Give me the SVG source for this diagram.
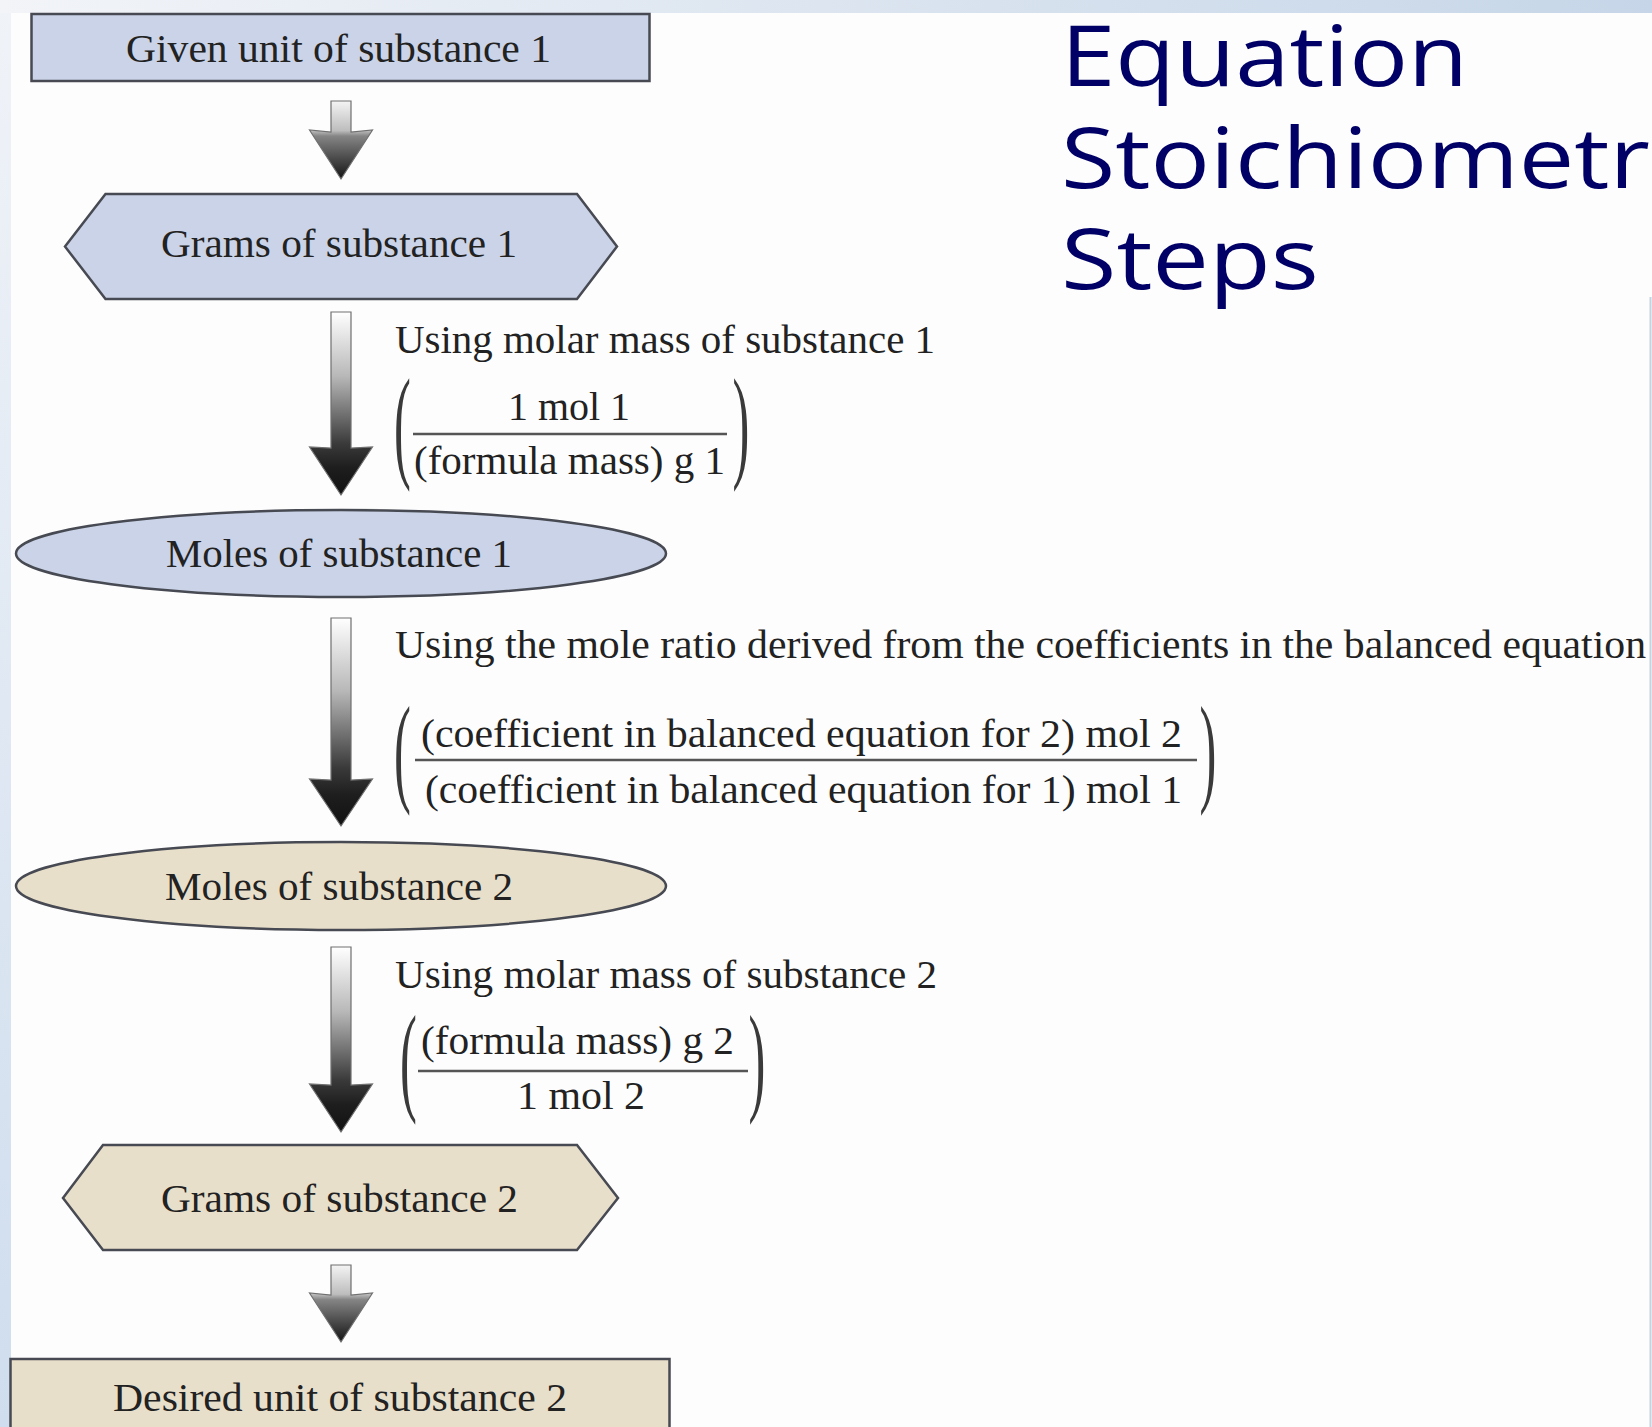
<svg xmlns="http://www.w3.org/2000/svg" width="1652" height="1427" viewBox="0 0 1652 1427">
<defs>
  <linearGradient id="topband" x1="0" y1="0" x2="1" y2="0">
    <stop offset="0" stop-color="#f2f4f8"/>
    <stop offset="1" stop-color="#c6d6e8"/>
  </linearGradient>
  <linearGradient id="leftband" x1="0" y1="0" x2="0" y2="1">
    <stop offset="0" stop-color="#f0f3f8"/>
    <stop offset="1" stop-color="#cfddee"/>
  </linearGradient>
  <linearGradient id="gradLong" x1="0" y1="0" x2="0" y2="1">
    <stop offset="0" stop-color="#ffffff"/>
    <stop offset="0.35" stop-color="#b8b8b8"/>
    <stop offset="0.72" stop-color="#3a3a3a"/>
    <stop offset="0.85" stop-color="#1e1e1e"/>
    <stop offset="1" stop-color="#111111"/>
  </linearGradient>
  <linearGradient id="gradShort" x1="0" y1="0" x2="0" y2="1">
    <stop offset="0" stop-color="#f4f4f4"/>
    <stop offset="0.38" stop-color="#bdbdbd"/>
    <stop offset="0.45" stop-color="#858585"/>
    <stop offset="1" stop-color="#141414"/>
  </linearGradient>
</defs>
<style>
  .lbl { font-family: "Liberation Serif", "Times New Roman", serif; font-size: 40px; fill: #222222; }
  .paren { font-family: "Liberation Serif", "Times New Roman", serif; font-size: 46px; fill: #3a3a3a; }
  .title { font-family: "Open Sans", "DejaVu Sans", sans-serif; font-size: 85px; fill: #000066; }
  .blue { fill: #cad3e7; stroke: #474a52; stroke-width: 2.5; }
  .tan { fill: #e8dfcb; stroke: #474a52; stroke-width: 2.5; }
  .arrowL { fill: url(#gradLong); stroke: #707070; stroke-width: 1.2; }
  .arrowS { fill: url(#gradShort); stroke: #707070; stroke-width: 1.2; }
  .frac { stroke: #555555; stroke-width: 2.5; }
</style>

<g id="background">
  <rect x="0" y="0" width="1652" height="1427" fill="#fdfdfd"/>
  <rect x="0" y="0" width="11" height="1427" fill="url(#leftband)"/>
  <rect x="0" y="0" width="1652" height="13" fill="url(#topband)"/>
  <line x1="1650.5" y1="297" x2="1650.5" y2="1427" stroke="#c5d2e0" stroke-width="2"/>
</g>

<g id="title">
  <text class="title" x="1061" y="86" textLength="407" lengthAdjust="spacingAndGlyphs">Equation</text>
  <text class="title" x="1061" y="188" textLength="589" lengthAdjust="spacingAndGlyphs">Stoichiometr</text>
  <text class="title" x="1061" y="289" textLength="258" lengthAdjust="spacingAndGlyphs">Steps</text>
</g>

<g id="connectors">
  <path class="arrowS" d="M331,101 L351,101 L351,132 L372.5,130 L341,179 L309.5,130 L331,132 Z"/>
  <path class="arrowL" d="M331,312 L351,312 L351,448 L372.5,447 L341,495 L309.5,447 L331,448 Z"/>
  <path class="arrowL" d="M331,618 L351,618 L351,780 L372.5,779 L341,826 L309.5,779 L331,780 Z"/>
  <path class="arrowL" d="M331,947 L351,947 L351,1085 L372.5,1084 L341,1132 L309.5,1084 L331,1085 Z"/>
  <path class="arrowS" d="M331,1265 L351,1265 L351,1295 L372.5,1293 L341,1342 L309.5,1293 L331,1295 Z"/>
</g>

<g id="given1">
  <rect class="blue" x="31.5" y="14" width="618" height="67"/>
  <text class="lbl" x="126" y="62" textLength="425" lengthAdjust="spacingAndGlyphs">Given unit of substance 1</text>
</g>

<g id="grams1">
  <polygon class="blue" points="65,246.5 105.5,194 577,194 617,246.5 577,299 105.5,299"/>
  <text class="lbl" x="161" y="257" textLength="356" lengthAdjust="spacingAndGlyphs">Grams of substance 1</text>
</g>

<g id="factor1">
  <text class="lbl" x="395" y="353" textLength="540" lengthAdjust="spacingAndGlyphs">Using molar mass of substance 1</text>
  <text class="paren" transform="translate(394,465) scale(1.1,2.7)">(</text>
  <text class="lbl" x="508" y="420" textLength="122" lengthAdjust="spacingAndGlyphs">1 mol 1</text>
  <line class="frac" x1="413" y1="434" x2="727" y2="434"/>
  <text class="lbl" x="414" y="474" textLength="311" lengthAdjust="spacingAndGlyphs">(formula mass) g 1</text>
  <text class="paren" transform="translate(732.5,465) scale(1.1,2.7)">)</text>
</g>

<g id="moles1">
  <ellipse class="blue" cx="341" cy="553.5" rx="325" ry="43.5"/>
  <text class="lbl" x="166" y="567" textLength="346" lengthAdjust="spacingAndGlyphs">Moles of substance 1</text>
</g>

<g id="factor2">
  <text class="lbl" x="395" y="658" textLength="1251" lengthAdjust="spacingAndGlyphs">Using the mole ratio derived from the coefficients in the balanced equation</text>
  <text class="paren" transform="translate(394,789.6) scale(1.1,2.625)">(</text>
  <text class="lbl" x="421" y="747" textLength="761" lengthAdjust="spacingAndGlyphs">(coefficient in balanced equation for 2) mol 2</text>
  <line class="frac" x1="415" y1="760" x2="1197" y2="760"/>
  <text class="lbl" x="425" y="803" textLength="757" lengthAdjust="spacingAndGlyphs">(coefficient in balanced equation for 1) mol 1</text>
  <text class="paren" transform="translate(1199.5,789.6) scale(1.1,2.625)">)</text>
</g>

<g id="moles2">
  <ellipse class="tan" cx="341" cy="886" rx="325" ry="44"/>
  <text class="lbl" x="165" y="900" textLength="348" lengthAdjust="spacingAndGlyphs">Moles of substance 2</text>
</g>

<g id="factor3">
  <text class="lbl" x="395" y="988" textLength="542" lengthAdjust="spacingAndGlyphs">Using molar mass of substance 2</text>
  <text class="paren" transform="translate(400,1098.6) scale(1.1,2.625)">(</text>
  <text class="lbl" x="421" y="1054" textLength="313" lengthAdjust="spacingAndGlyphs">(formula mass) g 2</text>
  <line class="frac" x1="418" y1="1071" x2="748" y2="1071"/>
  <text class="lbl" x="517" y="1109" textLength="128" lengthAdjust="spacingAndGlyphs">1 mol 2</text>
  <text class="paren" transform="translate(748.5,1098.6) scale(1.1,2.625)">)</text>
</g>

<g id="grams2">
  <polygon class="tan" points="63,1198 103,1145 577,1145 618,1198 577,1250 103,1250"/>
  <text class="lbl" x="161" y="1212" textLength="357" lengthAdjust="spacingAndGlyphs">Grams of substance 2</text>
</g>

<g id="desired2">
  <rect class="tan" x="10.5" y="1359" width="659" height="80"/>
  <text class="lbl" x="113" y="1411" textLength="454" lengthAdjust="spacingAndGlyphs">Desired unit of substance 2</text>
</g>
</svg>
